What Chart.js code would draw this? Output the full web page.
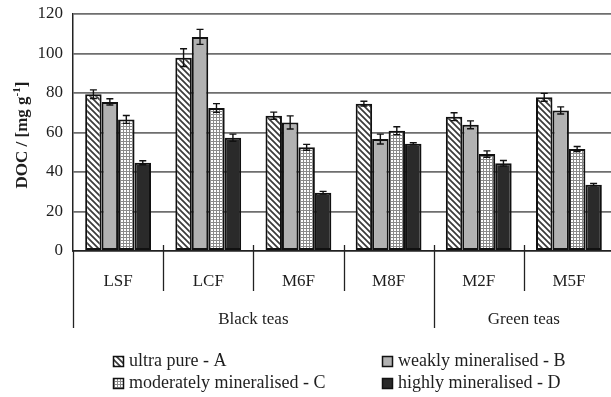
<!DOCTYPE html>
<html>
<head>
<meta charset="utf-8">
<script src="https://cdn.jsdelivr.net/npm/chart.js@4/dist/chart.umd.min.js"></script>
<style>
  html, body { margin: 0; padding: 0; background: #fff; overflow: hidden; }
  #wrap { position: relative; width: 614px; height: 397px; }
</style>
</head>
<body>
<div id="wrap"><canvas id="c"></canvas></div>
<script>
// Tea samples and their groups
const teas = ['LSF', 'LCF', 'M6F', 'M8F', 'M2F', 'M5F'];
const teaGroups = [
  { label: 'Black teas', from: 0, to: 4 },
  { label: 'Green teas', from: 4, to: 6 }
];
const waterTypes = ['ultra pure - A', 'weakly mineralised - B', 'moderately mineralised - C', 'highly mineralised - D'];

// DOC per water type (mg g-1) and standard deviations
const docA = [79.4, 97.9, 68.5, 74.6, 68.0, 77.8];
const docB = [75.5, 108.4, 65.1, 56.7, 63.9, 71.2];
const docC = [66.6, 72.4, 52.5, 60.9, 49.1, 51.6];
const docD = [44.7, 57.4, 29.5, 54.3, 44.4, 33.6];
const sdA = [2.2, 4.5, 1.8, 1.2, 2.0, 2.0];
const sdB = [1.6, 3.8, 3.3, 2.5, 2.0, 1.8];
const sdC = [2.0, 2.2, 1.5, 2.0, 1.6, 1.3];
const sdD = [1.0, 1.8, 0.7, 0.5, 1.4, 0.6];

const yTicks = [0, 20, 40, 60, 80, 100, 120];

const canvas = document.getElementById('c');
const ctx = canvas.getContext('2d');

function makePattern(size, draw) {
  const p = document.createElement('canvas');
  p.width = size; p.height = size;
  const g = p.getContext('2d');
  draw(g, size);
  return ctx.createPattern(p, 'repeat');
}

// diagonal hatch for A
const hatch = makePattern(6, (g, s) => {
  g.fillStyle = '#fff'; g.fillRect(0, 0, s, s);
  g.strokeStyle = '#3a3a3a'; g.lineWidth = 1.7;
  g.beginPath();
  g.moveTo(-1, -1); g.lineTo(s + 1, s + 1);
  g.moveTo(-1, s - 1); g.lineTo(1, s + 1);
  g.moveTo(s - 1, -1); g.lineTo(s + 1, 1);
  g.stroke();
});
// fine grid for C
const grid = makePattern(3, (g, s) => {
  g.fillStyle = '#fff'; g.fillRect(0, 0, s, s);
  g.fillStyle = '#8a8a8a';
  g.fillRect(0, 0, s, 1);
  g.fillRect(0, 0, 1, s);
});

const fills = [hatch, '#b2b2b2', grid, '#2a2a2a'];
const values = [docA, docB, docC, docD];
const errors = [sdA, sdB, sdC, sdD];

const serif = '"Liberation Serif", "DejaVu Serif", serif';
const textColor = '#1e1e1e';

const datasets = waterTypes.map((name, i) => ({
  label: name,
  data: values[i],
  errors: errors[i],
  backgroundColor: fills[i],
  borderColor: '#111',
  borderWidth: 2,
  borderSkipped: false,
  categoryPercentage: 0.73,
  barPercentage: 1.0
}));

const errorBars = {
  id: 'errorBars',
  afterDatasetsDraw(chart) {
    const y = chart.scales.y;
    const c = chart.ctx;
    c.save();
    c.strokeStyle = '#111';
    c.lineWidth = 1.4;
    chart.data.datasets.forEach((ds, di) => {
      const meta = chart.getDatasetMeta(di);
      meta.data.forEach((bar, i) => {
        const v = ds.data[i], e = ds.errors[i];
        const y1 = y.getPixelForValue(v + e);
        const y2 = y.getPixelForValue(v - e);
        const x = bar.x;
        c.beginPath();
        c.moveTo(x, y1); c.lineTo(x, y2);
        c.moveTo(x - 3.5, y1); c.lineTo(x + 3.5, y1);
        c.moveTo(x - 3.5, y2); c.lineTo(x + 3.5, y2);
        c.stroke();
      });
    });
    c.restore();
  }
};

const decorations = {
  id: 'decorations',
  afterDraw(chart) {
    const c = chart.ctx;
    const area = chart.chartArea;
    const n = teas.length;
    const w = (area.right - area.left) / n;
    c.save();
    c.strokeStyle = '#222';
    c.lineWidth = 1.3;
    // category separators, long ones at group edges
    for (let i = 0; i <= n; i++) {
      const x = Math.round(area.left + i * w) + 0.5;
      const isGroupEdge = teaGroups.some(g => g.from === i);
      c.beginPath();
      c.moveTo(x, i === 0 ? area.bottom : area.bottom - 6);
      c.lineTo(x, isGroupEdge ? area.bottom + 77 : area.bottom + 40);
      c.stroke();
    }
    // group labels
    c.fillStyle = textColor;
    c.font = '17px ' + serif;
    c.textAlign = 'center';
    c.textBaseline = 'alphabetic';
    teaGroups.forEach(g => {
      const cx = area.left + (g.from + g.to) / 2 * w;
      c.fillText(g.label, cx, area.bottom + 72.5);
    });

    // y axis title with superscript
    c.save();
    c.translate(27, 135);
    c.rotate(-Math.PI / 2);
    const bigFont = 'bold 17px ' + serif;
    const smallFont = 'bold 11px ' + serif;
    const parts = [
      { t: 'DOC / [mg g', f: bigFont, dy: 0 },
      { t: '-1', f: smallFont, dy: -7 },
      { t: ']', f: bigFont, dy: 0 }
    ];
    let total = 0;
    parts.forEach(p => { c.font = p.f; p.w = c.measureText(p.t).width; total += p.w; });
    let px = -total / 2;
    c.textAlign = 'left';
    parts.forEach(p => { c.font = p.f; c.fillText(p.t, px, p.dy); px += p.w; });
    c.restore();

    // legend in two columns
    const cols = [113, 382];
    const rows = [366, 388];
    c.font = '18px ' + serif;
    c.textAlign = 'left';
    chart.data.datasets.forEach((ds, i) => {
      const cx = cols[i % 2];
      const by = rows[Math.floor(i / 2)];
      c.fillStyle = ds.backgroundColor;
      c.fillRect(cx, by - 10, 11, 11);
      c.strokeStyle = '#111';
      c.lineWidth = 1.5;
      c.strokeRect(cx + 0.5, by - 9.5, 10, 10);
      c.fillStyle = textColor;
      c.fillText(ds.label, cx + 16, by);
    });
    c.restore();
  }
};

new Chart(canvas, {
  type: 'bar',
  data: { labels: teas, datasets },
  options: {
    responsive: true,
    maintainAspectRatio: false,
    animation: false,
    layout: { padding: { top: 14, left: 0, right: 0, bottom: 0 } },
    plugins: { legend: { display: false }, tooltip: { enabled: false } },
    scales: {
      x: {
        offset: true,
        grid: { display: false },
        border: { display: true, color: '#222', width: 1.5 },
        ticks: {
          color: textColor,
          font: { family: serif, size: 17 },
          padding: 12,
          maxRotation: 0
        },
        afterFit(scale) { scale.height = 146; }
      },
      y: {
        min: 0,
        max: 120,
        afterBuildTicks(scale) { scale.ticks = yTicks.map(v => ({ value: v })); },
        grid: { color: '#6e6e6e', lineWidth: 1.8, drawTicks: false },
        border: { display: true, color: '#222', width: 1.5 },
        ticks: {
          color: textColor,
          font: { family: serif, size: 17 },
          padding: 10
        },
        afterFit(scale) {
          scale.width = 73;
          scale.paddingTop = 0;
          scale.paddingBottom = 0;
        }
      }
    }
  },
  plugins: [errorBars, decorations]
});
</script>
</body>
</html>
